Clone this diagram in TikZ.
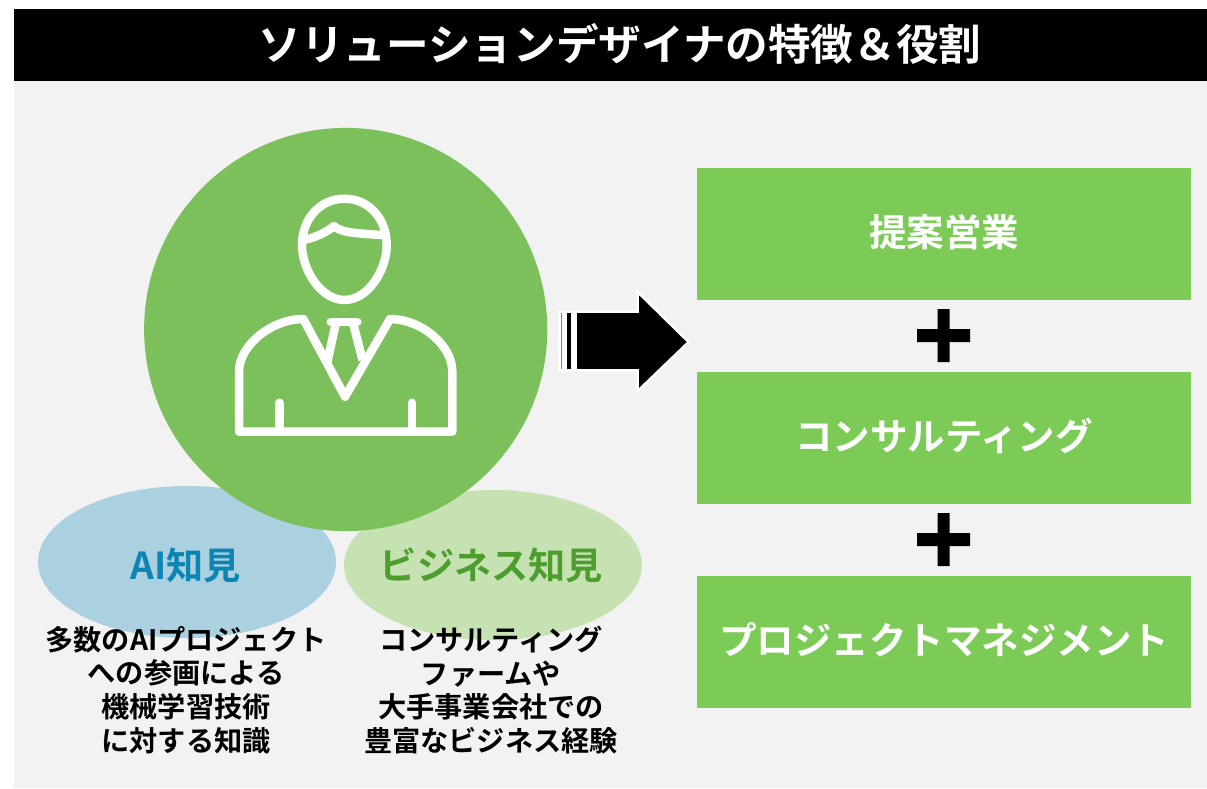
\documentclass[tikz,border=0pt]{standalone}
\usepackage{fontspec}
\setmainfont{Noto Sans CJK JP}[BoldFont={Noto Sans CJK JP Bold}]
\definecolor{panelgray}{HTML}{F2F2F2}
\definecolor{roundgreen}{HTML}{7CC05B}
\definecolor{boxgreen}{HTML}{7DCB57}
\definecolor{aiblue}{HTML}{ABD0E0}
\definecolor{bizgreen}{HTML}{C6E2B3}
\definecolor{aitext}{HTML}{0C85B3}
\definecolor{biztext}{HTML}{4E9E2F}
\tikzset{
  roletext/.style={text=white, font=\bfseries\fontsize{37.5}{37.5}\selectfont},
  bloblabel/.style={font=\bfseries\fontsize{37.2}{37.2}\selectfont},
  blobtext/.style={align=center, text=black, inner sep=0pt, font=\bfseries\fontsize{28.2}{33.7}\selectfont},
  icon/.style={draw=white, line width=8.5pt, line cap=round, line join=round}
}
\begin{document}
\begin{tikzpicture}[x=1pt, y=-1pt]
%definitions
\def\headegg{(344.5,198.7) .. controls (369,198.7) and (386.7,219) .. (386.7,245) .. controls (386.7,270) and (368,300) .. (344.5,300) .. controls (321,300) and (302,270) .. (302,245) .. controls (302,219) and (320,198.7) .. (344.5,198.7)}
\def\plussign{(-6,-26.5) -- (6,-26.5) -- (6,-6.5) -- (26.5,-6.5) -- (26.5,6.5) -- (6,6.5) -- (6,26.5) -- (-6,26.5) -- (-6,6.5) -- (-26.5,6.5) -- (-26.5,-6.5) -- (-6,-6.5) -- cycle}
\useasboundingbox (0,0) rectangle (1207,788);

%panels
\fill[panelgray] (14,81) rectangle (1207,788);
\fill[black] (14,9) rectangle (1207,81);
\node[text=white, font=\bfseries\fontsize{42.6}{42.6}\selectfont] (title) at (620,44) {ソリューションデザイナの特徴＆役割};

%blobs
\fill[aiblue] (187,562) ellipse [x radius=149pt, y radius=76pt];
\fill[bizgreen] (493,565) ellipse [x radius=149pt, y radius=75pt];
\fill[roundgreen] (345.7,329.5) circle [radius=201.6pt];
\node[bloblabel, text=aitext] (ailabel) at (185.5,565.5) {AI知見};
\node[bloblabel, text=biztext] (bizlabel) at (491.5,565.5) {ビジネス知見};
\node[blobtext] (aitext) at (186,690) {多数のAIプロジェクト\\への参画による\\機械学習技術\\に対する知識};
\node[blobtext] (biztext) at (491,690) {コンサルティング\\ファームや\\大手事業会社での\\豊富なビジネス経験};

%person
\draw[icon] \headegg;
\draw[icon] (306.7,239.3) .. controls (316,237) and (327,232) .. (334,226) .. controls (341,232) and (350,233) .. (381.7,235);
\draw[icon] (239,431.7) -- (239,371.7) .. controls (239,345) and (272,319) .. (303.3,319) -- (345,396.7) -- (390,319) .. controls (421,319) and (452.3,345) .. (452.3,371.7) -- (452.3,431.7) -- cycle;
\draw[icon] (279.3,402.7) -- (279.3,431.7);
\draw[icon] (412,402.7) -- (412,431.7);
\draw[icon] (330.7,322) -- (357.3,322);
\draw[icon, line cap=butt] (335.7,324) -- (327.3,362);
\draw[icon, line cap=butt] (353.3,324) -- (362.5,360);

%arrow
\fill[white] (558.3,310.5) rectangle (574.5,371.5);
\fill[gray] (561.3,313) rectangle (562,369);
\fill[black] (567.3,313) rectangle (571,369);
\draw[white, line width=2.5pt, fill=black, miter limit=10] (575.6,311.7) -- (637.7,311.7) -- (637.7,292) -- (688.6,342) -- (637.7,391) -- (637.7,370.3) -- (575.6,370.3) -- cycle;

%roles
\fill[boxgreen] (697,168) rectangle (1191,300);
\fill[boxgreen] (697,372) rectangle (1191,504);
\fill[boxgreen] (697,576) rectangle (1191,708);
\node[roletext] (proposal) at (944,232) {提案営業};
\node[roletext] (consult) at (944,436) {コンサルティング};
\node[roletext] (manage) at (944,640) {プロジェクトマネジメント};
\fill[black, shift={(943.5,335.5)}] \plussign;
\fill[black, shift={(943.5,539.5)}] \plussign;
\end{tikzpicture}
\end{document}
